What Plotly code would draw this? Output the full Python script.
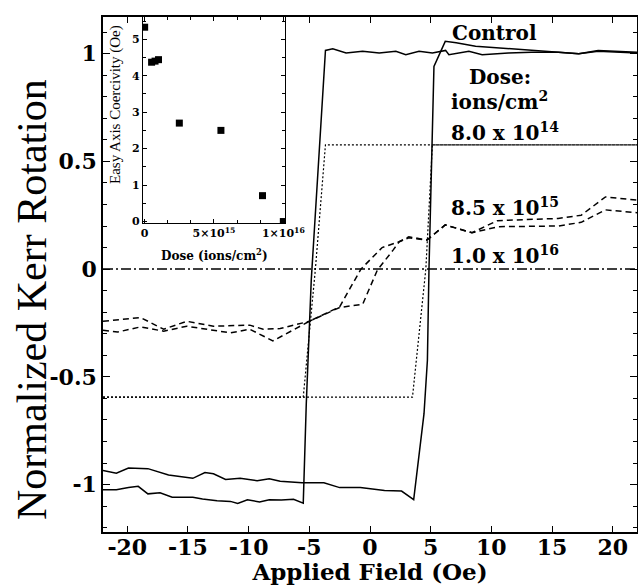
import plotly.graph_objects as go

# ---------------- data ----------------
# Control sample, ascending-field branch
ctrl_up_x = [-22, -20.9, -19.9, -18.3, -16.6, -14.6, -13.6, -12.9, -11.9, -10.7, -9.3, -8.3, -7.4,
             -5.6, -3.8, -2.5, -0.8, 1.2, 2.6, 3.6, 4.45, 4.73, 4.86, 5.27, 6.2, 7.1, 8.7, 10.6,
             12.8, 14.4, 17.2, 18.8, 22]
ctrl_up_y = [-0.934, -0.947, -0.923, -0.926, -0.955, -0.971, -0.944, -0.950, -0.976, -0.971, -0.982,
             -0.973, -0.984, -0.992, -0.992, -1.014, -1.014, -1.027, -1.030, -1.070, -0.671, -0.423,
             0.0, 0.941, 1.057, 1.050, 1.034, 1.026, 1.019, 1.011, 1.000, 1.011, 1.003]
# Control sample, descending-field branch
ctrl_dn_x = [-22, -20.9, -19.9, -19.1, -18.3, -17.3, -16.3, -14.6, -13.8, -12.6, -11.5, -10.9, -10.1,
             -9.1, -8.3, -7.3, -6.3, -5.5, -5.25, -4.84, -3.67, -3.07, -1.97, -0.61, 0.76, 2.13, 2.95,
             4.04, 5.14, 6.23, 6.5, 8.15, 9.24, 11.4, 13.3, 15.5, 17.2, 18.8, 22]
ctrl_dn_y = [-1.024, -1.024, -1.014, -1.008, -1.043, -1.038, -1.059, -1.059, -1.067, -1.075, -1.078,
             -1.088, -1.070, -1.081, -1.070, -1.072, -1.068, -1.086, -0.625, -0.051, 1.015, 1.022,
             1.003, 1.011, 1.003, 1.011, 0.995, 1.011, 1.003, 1.015, 0.995, 1.011, 0.995, 1.003,
             1.006, 1.006, 0.999, 1.015, 1.006]

# Dose 8.0e14
d1_dn_x = [-22, -5.5, -4.5, -3.67, 22]
d1_dn_y = [-0.594, -0.594, 0.0, 0.577, 0.577]
d1_up_x = [-22, 3.5, 4.6, 5.14, 22]
d1_up_y = [-0.594, -0.594, 0.0, 0.577, 0.577]

# Dose 8.5e15
d2_dn_x = [-22, -20.8, -18.9, -17.0, -15.1, -11.5, -9.9, -8.0, -5.0, -2.5, -0.75, 1.0, 2.4, 3.2,
           4.7, 6.2, 8.4, 10.5, 15.5, 17.4, 19.4, 22]
d2_dn_y = [-0.284, -0.292, -0.268, -0.288, -0.265, -0.296, -0.279, -0.333, -0.242, -0.175, 0.0,
           0.10, 0.127, 0.150, 0.135, 0.205, 0.169, 0.225, 0.235, 0.250, 0.335, 0.320]
d2_up_x = [-22, -21.1, -18.9, -17.0, -15.1, -12.9, -9.9, -8.8, -7.4, -5.0, -2.5, -0.6, 0.6, 1.9,
           2.4, 3.2, 4.7, 6.2, 8.4, 10.6, 15.5, 17.4, 19.4, 22]
d2_up_y = [-0.242, -0.237, -0.225, -0.279, -0.242, -0.265, -0.260, -0.279, -0.276, -0.242, -0.178,
           -0.163, -0.005, 0.088, 0.127, 0.145, 0.135, 0.205, 0.169, 0.197, 0.200, 0.217, 0.275, 0.262]

# Dose 1.0e16
d3_x = [-22, -11, 0, 11, 22]
d3_y = [0.0, 0.0, 0.0, 0.0, 0.0]

# Inset: coercivity vs dose
dose = [0, 0.5e15, 0.75e15, 1.0e15, 2.5e15, 5.5e15, 8.5e15, 1.0e16]
coercivity = [5.33, 4.37, 4.40, 4.44, 2.70, 2.50, 0.71, 0.0]

x_ticks = [-20, -15, -10, -5, 0, 5, 10, 15, 20]
x_tick_text = ["-20", "-15", "-10", "-5", "0", "5", "10", "15", "20"]
y_ticks = [-1, -0.5, 0, 0.5, 1]
y_tick_text = ["-1", "-0.5", "0", "0.5", "1"]
inset_x_ticks = [0, 5e15, 1e16]
inset_x_text = ["0", "5×10<sup>15</sup>", "1×10<sup>16</sup>"]

# ---------------- figure ----------------
fig = go.Figure()
black = "black"
solid = dict(color=black, width=1.5)
fig.add_trace(go.Scatter(x=ctrl_up_x, y=ctrl_up_y, mode="lines", line=solid, name="Control"))
fig.add_trace(go.Scatter(x=ctrl_dn_x, y=ctrl_dn_y, mode="lines", line=solid, name="Control"))
dotted = dict(color=black, width=1.2, dash="2px,2px")
fig.add_trace(go.Scatter(x=d1_dn_x, y=d1_dn_y, mode="lines", line=dotted, name="8.0e14"))
fig.add_trace(go.Scatter(x=d1_up_x, y=d1_up_y, mode="lines", line=dotted, name="8.0e14"))
dashed = dict(color=black, width=1.5, dash="6px,4px")
fig.add_trace(go.Scatter(x=d2_dn_x, y=d2_dn_y, mode="lines", line=dashed, name="8.5e15"))
fig.add_trace(go.Scatter(x=d2_up_x, y=d2_up_y, mode="lines", line=dashed, name="8.5e15"))
fig.add_trace(go.Scatter(x=d3_x, y=d3_y, mode="lines",
                         line=dict(color=black, width=1.5, dash="10px,3px,2px,3px"), name="1.0e16"))

fig.add_trace(go.Scatter(x=dose, y=coercivity, mode="markers", xaxis="x2", yaxis="y2",
                         marker=dict(symbol="square", size=7, color=black), name="coercivity"))

serif = "DejaVu Serif"
tick_font = dict(family=serif, size=22, color=black, weight="bold")

fig.update_layout(
    width=638, height=585,
    margin=dict(l=103, r=1, t=17, b=53),
    paper_bgcolor="white", plot_bgcolor="white",
    showlegend=False,
    xaxis=dict(range=[-22, 22], tickmode="array", tickvals=x_ticks, ticktext=x_tick_text,
               ticks="inside", ticklen=6, tickwidth=1.2, tickcolor=black, automargin=False,
               ticklabelstandoff=-5,
               showline=True, linewidth=1.5, linecolor=black, mirror="ticks",
               showgrid=False, zeroline=False, tickfont=tick_font,
               title=dict(text="Applied Field (Oe)", standoff=5,
                          font=dict(family=serif, size=23, color=black, weight="bold"))),
    yaxis=dict(range=[-1.22, 1.17], tickmode="array", tickvals=y_ticks, ticktext=y_tick_text,
               ticks="inside", ticklen=7, tickwidth=1.2, tickcolor=black, automargin=False,
               minor=dict(tickmode="linear", tick0=0, dtick=0.1, ticks="inside", ticklen=4,
                          tickwidth=1, tickcolor=black, showgrid=False),
               showline=True, linewidth=1.5, linecolor=black, mirror="ticks",
               showgrid=False, zeroline=False, tickfont=tick_font),
    xaxis2=dict(domain=[0.0749, 0.3408], anchor="y2", range=[-0.12e15, 1.012e16],
                tickmode="array", tickvals=inset_x_ticks, ticktext=inset_x_text,
                ticks="inside", ticklen=4, tickcolor=black, automargin=False,
                minor=dict(tickmode="linear", tick0=0, dtick=5e15 / 3, ticks="inside", ticklen=3,
                           tickcolor=black, showgrid=False),
                showline=True, linewidth=1.2, linecolor=black, mirror="ticks",
                showgrid=False, zeroline=False,
                tickfont=dict(family=serif, size=11, color=black, weight="bold")),
    yaxis2=dict(domain=[0.6, 1.0], anchor="x2", range=[-0.04, 5.61],
                tickmode="linear", tick0=0, dtick=1, automargin=False,
                ticks="inside", ticklen=4, tickcolor=black,
                minor=dict(tickmode="linear", tick0=0, dtick=0.5, ticks="inside", ticklen=3,
                           tickcolor=black, showgrid=False),
                showline=True, linewidth=1.2, linecolor=black, mirror="ticks",
                showgrid=False, zeroline=False,
                tickfont=dict(family=serif, size=11, color=black, weight="bold")),
)

lab_font = dict(family=serif, size=20, color=black, weight="bold")
annots = [
    dict(x=6.6, y=1.098, text="Control", xanchor="left"),
    dict(x=8.0, y=0.893, text="Dose:", xanchor="left"),
    dict(x=6.5, y=0.778, text="ions/cm<sup>2</sup>", xanchor="left"),
    dict(x=6.5, y=0.638, text="8.0 x 10<sup>14</sup>", xanchor="left"),
    dict(x=6.5, y=0.288, text="8.5 x 10<sup>15</sup>", xanchor="left"),
    dict(x=6.5, y=0.065, text="1.0 x 10<sup>16</sup>", xanchor="left"),
]
for a in annots:
    fig.add_annotation(xref="x", yref="y", showarrow=False, font=lab_font, yanchor="middle", **a)

# main y-axis title
fig.add_annotation(xref="paper", yref="paper", x=(32 - 103) / 534, y=(532 - 300) / 515,
                   text="Normalized Kerr Rotation", textangle=-90, showarrow=False,
                   xanchor="center", yanchor="middle",
                   font=dict(family="Liberation Serif", size=42, color=black))
# inset titles
fig.add_annotation(xref="paper", yref="paper", x=(116 - 103) / 534, y=(532 - 105) / 515,
                   text="Easy Axis Coercivity (Oe)", textangle=-90, showarrow=False,
                   xanchor="center", yanchor="middle",
                   font=dict(family="Liberation Serif", size=15, color=black))
fig.add_annotation(xref="paper", yref="paper", x=(214 - 103) / 534, y=(532 - 255) / 515,
                   text="Dose (ions/cm<sup>2</sup>)", showarrow=False,
                   xanchor="center", yanchor="middle",
                   font=dict(family=serif, size=12, color=black, weight="bold"))

fig.write_html("out.html", config={"displayModeBar": False},
               post_script="document.body.style.margin='0';document.body.style.overflow='hidden';")
